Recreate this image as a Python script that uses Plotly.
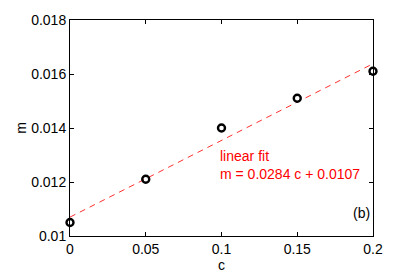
import plotly.graph_objects as go

c_vals = [0, 0.05, 0.1, 0.15, 0.2]
m_vals = [0.0105, 0.0121, 0.0140, 0.0151, 0.0161]
fit_slope = 0.0284
fit_intercept = 0.0107
fit_c = [0, 0.2]
fit_m = [fit_intercept + fit_slope * c for c in fit_c]
x_ticks = [0, 0.05, 0.1, 0.15, 0.2]
x_tick_labels = ["0", "0.05", "0.1", "0.15", "0.2"]
y_ticks = [0.01, 0.012, 0.014, 0.016, 0.018]
y_tick_labels = ["0.01", "0.012", "0.014", "0.016", "0.018"]

font = "Liberation Sans, Arial, sans-serif"
fs = 14

fig = go.Figure()
fig.add_trace(go.Scatter(x=fit_c, y=fit_m, mode="lines",
                         line=dict(color="#ff3030", width=1, dash="6px,5px"),
                         showlegend=False, hoverinfo="skip"))
fig.add_trace(go.Scatter(x=c_vals, y=m_vals, mode="markers",
                         marker=dict(symbol="circle-open", size=7, color="black",
                                     line=dict(width=2.4, color="black")),
                         showlegend=False, cliponaxis=False))

axis_common = dict(showgrid=False, zeroline=False, showline=True, linecolor="black",
                   linewidth=1, mirror="ticks", ticks="inside", ticklen=4,
                   tickcolor="black", tickfont=dict(family=font, size=fs, color="black"))

fig.update_xaxes(range=[0, 0.2], tickvals=x_ticks, ticktext=x_tick_labels,
                 title=dict(text="c", font=dict(family=font, size=fs, color="black"), standoff=0),
                 **axis_common)
fig.update_yaxes(range=[0.01, 0.018], tickvals=y_ticks, ticktext=y_tick_labels,
                 title=dict(text="m", font=dict(family=font, size=fs, color="black"), standoff=1),
                 **axis_common)

fig.add_annotation(x=0.098, y=0.01262, xref="x", yref="y", text="linear fit<br>m = 0.0284 c + 0.0107",
                   showarrow=False, xanchor="left", yanchor="middle", align="left",
                   font=dict(family=font, size=fs, color="red"))
fig.add_annotation(x=0.1995, y=0.01085, xref="x", yref="y", text="(b)",
                   showarrow=False, xanchor="right", yanchor="middle",
                   font=dict(family=font, size=fs, color="black"))

# page body has an 8px default margin; compensate so plot area sits where the reference's does
fig.update_layout(width=406, height=268, margin=dict(l=62, r=41, t=12, b=40, autoexpand=False),
                  paper_bgcolor="white", plot_bgcolor="white",
                  font=dict(family=font, size=fs, color="black"))

fig.write_html("out.html")
